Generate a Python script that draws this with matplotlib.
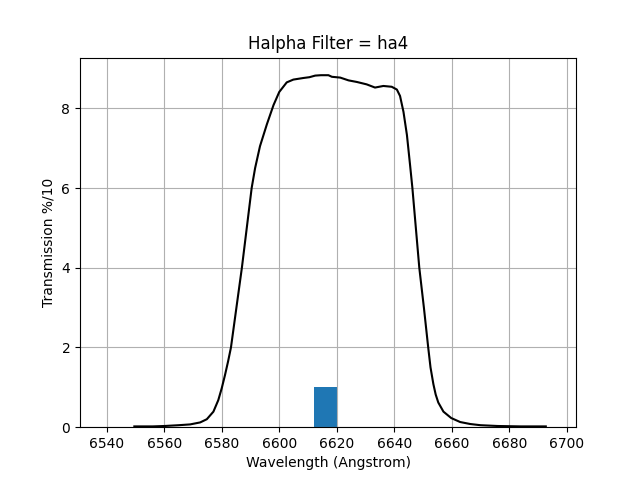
import matplotlib
matplotlib.use("Agg")
from matplotlib import pyplot as plt

# filter transmission curve
wavelength = [6549.6, 6556.0, 6560.0, 6565.0, 6569.0, 6572.5, 6574.8, 6577.1,
              6578.8, 6580.0, 6581.1, 6582.2, 6583.2, 6585.1, 6587.0, 6588.7,
              6590.4, 6591.6, 6593.3, 6595.7, 6598.0, 6600.0, 6602.6, 6604.9,
              6608.4, 6610.5, 6612.5, 6614.5, 6617.1, 6618.3, 6621.2, 6624.1,
              6627.0, 6630.4, 6633.3, 6636.2, 6639.1, 6640.9, 6642.0, 6643.2,
              6644.4, 6645.5, 6646.3, 6647.5, 6648.7, 6650.3, 6651.8, 6652.6,
              6653.6, 6654.4, 6655.3, 6657.1, 6659.8, 6662.9, 6666.4, 6670.0,
              6676.0, 6684.0, 6692.7]
transmission = [0.02, 0.02, 0.03, 0.05, 0.07, 0.12, 0.20, 0.39,
                0.68, 0.98, 1.30, 1.65, 2.00, 3.00, 4.00, 5.00,
                6.00, 6.50, 7.05, 7.60, 8.08, 8.41, 8.65, 8.72,
                8.76, 8.78, 8.82, 8.83, 8.83, 8.79, 8.77, 8.70,
                8.66, 8.60, 8.52, 8.56, 8.54, 8.47, 8.31, 7.91,
                7.33, 6.57, 6.00, 5.00, 4.00, 3.00, 2.00, 1.50,
                1.08, 0.82, 0.62, 0.39, 0.23, 0.13, 0.08, 0.05,
                0.03, 0.02, 0.02]

line_center = [6616]
line_height = [1]
line_width = 8

plt.figure(figsize=(6.4, 4.8), dpi=100)
plt.bar(line_center, line_height, width=line_width)
plt.plot(wavelength, transmission, color="black")
plt.title("Halpha Filter = ha4")
plt.xlabel("Wavelength (Angstrom)")
plt.ylabel("Transmission %/10")
plt.xlim(6530.7, 6703.2)
plt.grid(True)
plt.savefig("out.png")
